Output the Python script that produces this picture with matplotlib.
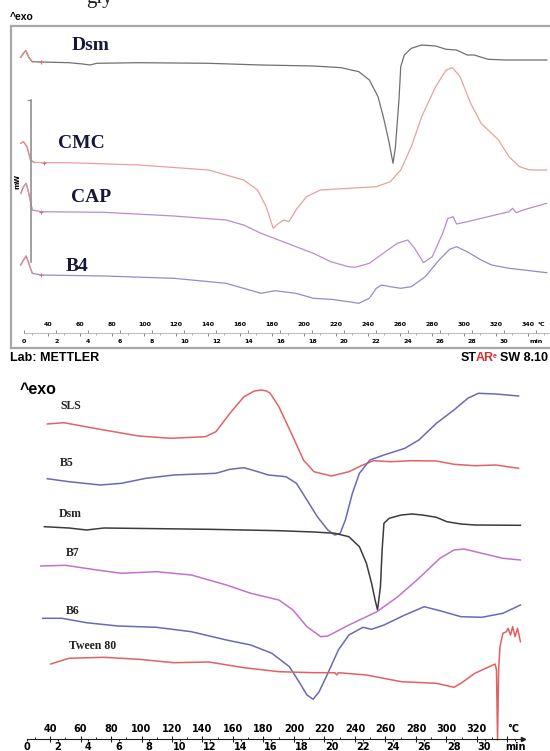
import matplotlib
matplotlib.use("Agg")
import matplotlib.pyplot as plt
import numpy as np

# ---------------- data (temperature in °C, signal in arbitrary units, downward positive) ----------------
# Top thermogram (METTLER)
top_dsm_T = [22.8, 24.5, 26.0, 27.8, 30.0, 35.4, 52.9, 61.6, 66.0, 70.3, 96.6, 140.2, 173.0, 205.7, 223.2,
             234.1, 240.7, 246.1, 249.4, 252.7, 255.5, 257.0, 259.2, 260.3, 262.5, 266.9, 273.4, 282.1,
             288.7, 295.2, 301.8, 306.2, 314.9, 325.8, 351.6]
top_dsm_y = [57.3, 53.3, 50.7, 57.3, 61.7, 62.0, 62.7, 64.0, 65.0, 63.3, 62.7, 63.3, 65.0, 66.0, 67.7,
             71.7, 80.0, 96.7, 116.7, 140.0, 163.3, 146.7, 100.0, 66.7, 55.0, 48.3, 45.0, 46.0,
             49.3, 50.0, 55.0, 55.0, 59.3, 60.0, 60.0]

top_cmc_T = [22.8, 24.5, 26.7, 28.9, 31.0, 37.6, 52.9, 96.6, 140.2, 162.1, 170.8, 176.2, 180.6, 183.9,
             187.2, 190.4, 194.8, 201.4, 210.1, 227.6, 245.0, 253.8, 260.3, 266.9, 273.4, 282.1, 288.7,
             292.6, 297.4, 304.0, 310.5, 317.1, 321.4, 328.0, 334.5, 341.1, 351.6]
top_cmc_y = [143.3, 141.7, 146.7, 160.0, 162.3, 162.7, 162.7, 165.0, 170.0, 180.0, 190.0, 206.7, 228.3,
             223.3, 220.0, 221.7, 210.0, 196.7, 190.0, 188.3, 186.7, 181.7, 170.0, 146.7, 116.7, 86.7,
             70.0, 67.7, 76.7, 103.3, 123.3, 133.3, 140.0, 156.7, 166.7, 170.0, 170.0]

top_cap_T = [22.8, 24.5, 26.2, 27.8, 30.0, 35.4, 74.7, 118.4, 151.1, 162.1, 173.0, 183.9, 205.7, 216.6,
             227.6, 231.9, 240.7, 249.4, 258.1, 264.7, 269.0, 274.5, 280.0, 286.5, 289.8, 293.1, 295.2,
             301.8, 314.9, 328.0, 330.2, 332.4, 336.7, 351.6]
top_cap_y = [193.3, 186.7, 183.3, 193.3, 210.0, 211.7, 212.3, 216.0, 220.0, 225.0, 233.3, 240.0, 253.3,
             261.7, 266.7, 267.3, 263.3, 253.3, 243.3, 240.0, 248.3, 262.7, 256.7, 233.3, 218.3, 216.7,
             224.0, 221.7, 216.7, 211.7, 208.3, 212.7, 210.0, 203.3]

top_b4_T = [22.8, 24.5, 26.2, 27.8, 30.0, 35.4, 74.7, 118.4, 151.1, 173.0, 181.7, 194.8, 205.7, 216.6,
            227.6, 234.1, 240.7, 245.0, 248.3, 253.8, 260.3, 266.9, 275.6, 284.3, 290.9, 295.2, 301.8,
            310.5, 317.1, 328.0, 351.6]
top_b4_y = [265.0, 260.0, 256.0, 263.3, 273.3, 275.0, 276.0, 278.3, 283.3, 293.3, 290.7, 293.3, 298.3,
            299.3, 301.7, 303.3, 298.3, 288.3, 285.0, 286.7, 288.3, 286.7, 276.7, 260.0, 249.3, 246.7,
            251.7, 260.0, 265.0, 268.3, 272.7]

top_names = ["Dsm", "CMC", "CAP", "B4"]
top_label_T = [54.4, 46.3, 53.9, 50.7]
top_label_y = [46, 144, 198, 267]

# Bottom thermogram
sls_T = [38.2, 49.0, 75.3, 98.3, 119.0, 141.9, 148.8, 158.0, 167.2, 174.0, 178.6, 182.0, 184.4, 190.1,
         199.3, 206.2, 213.1, 224.5, 236.0, 245.2, 252.1, 263.5, 277.3, 293.4, 304.9, 318.6, 332.4, 347.3]
sls_y = [424.0, 422.7, 430.0, 436.0, 438.3, 436.7, 431.7, 413.3, 396.7, 391.0, 390.0, 391.0, 393.3, 406.7,
         436.7, 460.0, 471.7, 476.0, 471.7, 465.0, 460.7, 461.7, 460.7, 461.0, 464.3, 465.7, 465.0, 468.3]

b5_T = [38.2, 52.4, 73.0, 86.8, 102.9, 121.2, 148.8, 158.0, 167.2, 176.3, 183.2, 194.7, 201.6, 208.5,
        215.3, 222.2, 226.8, 230.3, 233.7, 238.3, 242.9, 249.8, 259.0, 272.7, 281.9, 293.4, 304.9, 314.0,
        320.9, 332.4, 347.3]
b5_y = [478.7, 481.7, 485.0, 483.3, 478.3, 475.0, 473.3, 469.3, 467.7, 471.7, 475.0, 476.7, 483.3, 500.0,
        516.7, 530.0, 535.0, 533.3, 520.0, 493.3, 473.3, 460.0, 455.0, 448.3, 440.0, 423.3, 410.0, 398.3,
        393.3, 394.0, 396.0]

dsm_T = [36.3, 52.4, 63.9, 75.3, 144.2, 190.1, 213.1, 226.8, 236.0, 242.9, 247.5, 250.9, 253.2, 254.8,
         256.7, 257.8, 259.0, 262.4, 270.4, 277.3, 284.2, 293.4, 300.3, 309.5, 318.6, 348.5]
dsm_y = [526.7, 528.0, 530.0, 528.0, 529.3, 530.7, 532.0, 533.3, 536.7, 546.7, 563.3, 583.3, 600.0, 610.0,
         586.7, 550.0, 523.3, 518.3, 515.0, 514.0, 515.0, 517.3, 521.7, 524.0, 525.0, 525.3]

b7_T = [34.0, 50.1, 70.8, 86.8, 109.8, 132.7, 155.7, 171.7, 190.1, 199.3, 208.5, 217.6, 222.2, 236.0,
        254.4, 268.1, 281.9, 295.7, 304.9, 311.7, 323.2, 337.0, 348.5]
b7_y = [566.0, 565.3, 570.0, 573.3, 571.7, 575.0, 585.0, 593.3, 600.0, 610.0, 626.7, 636.7, 636.0, 625.0,
        611.7, 596.7, 578.3, 558.3, 550.0, 549.0, 553.3, 558.3, 560.0]

b6_T = [35.2, 47.8, 63.9, 84.5, 109.8, 132.7, 155.7, 171.7, 185.5, 197.0, 203.9, 208.5, 212.6, 216.5,
        222.2, 229.1, 236.0, 245.2, 250.9, 259.0, 272.7, 285.4, 295.7, 309.5, 323.2, 337.0, 348.5]
b6_y = [618.3, 618.3, 622.7, 626.0, 627.3, 631.7, 640.0, 645.0, 653.3, 666.7, 683.3, 695.0, 699.3, 691.7,
        673.3, 650.0, 635.0, 627.3, 629.3, 625.0, 615.0, 606.7, 610.7, 616.7, 617.3, 613.3, 605.0]

tw_T = [40.5, 52.4, 75.3, 98.3, 121.2, 144.2, 167.2, 190.1, 213.1, 226.8, 228.0, 229.1, 247.5, 270.4,
        293.4, 304.9, 309.5, 318.6, 331.9, 332.8, 333.5, 334.2, 335.1, 337.0, 339.3, 340.4, 342.0, 343.4,
        345.0, 346.6, 348.5]
tw_y = [664.0, 658.3, 657.3, 659.3, 662.7, 662.0, 667.7, 671.7, 672.7, 672.7, 675.0, 672.7, 675.0, 681.7,
        683.3, 687.3, 683.3, 673.3, 664.0, 670.0, 740.0, 670.0, 646.7, 633.3, 631.7, 628.3, 635.0, 626.7,
        636.7, 628.3, 641.7]

bot_names = ["SLS", "B5", "Dsm", "B7", "B6", "Tween 80"]
bot_label_T = [46.9, 46.7, 46.0, 50.6, 50.1, 52.4]
bot_label_y = [406, 463, 514, 553, 611, 646]

top_temp_ticks = list(range(40, 341, 20))
top_min_ticks = list(range(0, 33, 2))
bot_temp_ticks = list(range(40, 341, 20))
bot_min_ticks = list(range(0, 33, 2))

# ---------------- figure ----------------
W, H = 550, 751
fig = plt.figure(figsize=(W / 100, H / 100), dpi=100)


def box(x0, y0, x1, y1):
    return [x0 / W, 1 - y1 / H, (x1 - x0) / W, (y1 - y0) / H]


def T_to_min(T):
    return (np.asarray(T) - 25.0) / 10.0


def min_to_T(m):
    return np.asarray(m) * 10.0 + 25.0


# fragment of the page text above the figure (cut by the top edge)
fig.text(86 / W, 1 - 3 / H, "gly", family="Liberation Serif", fontsize=15, va="baseline", ha="left",
         color="#202020")

# ---- top panel ----
TOP_XLIM = (16.7, 361.1)
ax1 = fig.add_axes(box(11, 26, 562, 348))
ax1.set_xlim(*TOP_XLIM)
ax1.set_ylim(348, 26)
ax1.set_xticks([])
ax1.set_yticks([])
for s in ax1.spines.values():
    s.set_color("#a8a8a8")
    s.set_linewidth(1.6)

top_colors = ["#707070", "#e6a29c", "#b98ccf", "#8f8ccc"]
for (T, y, c) in zip([top_dsm_T, top_cmc_T, top_cap_T, top_b4_T],
                     [top_dsm_y, top_cmc_y, top_cap_y, top_b4_y], top_colors):
    ax1.plot(T, y, color=c, lw=0.9, marker="+", markevery=[5], ms=3, mec="#e07070", mew=0.8)
    ax1.plot(T[:5], y[:5], color="#dc8c8c", lw=0.9)

for name, tx, ty in zip(top_names, top_label_T, top_label_y):
    ax1.text(tx, ty, name, family="Liberation Serif", weight="bold", fontsize=14,
             color="#17173d", ha="left", va="center")

# scale bar (mW)
bar = fig.add_axes(box(31, 100, 32, 262))
bar.patch.set_visible(False)
for k in ["right", "top", "bottom"]:
    bar.spines[k].set_visible(False)
bar.spines["left"].set_color("#909090")
bar.spines["left"].set_linewidth(1.2)
bar.set_xticks([])
bar.set_ylim(0, 1)
bar.set_yticks([1])
bar.set_yticklabels([])
bar.tick_params(axis="y", length=3, color="#909090")
bar.set_ylabel("mW", fontsize=5, weight="bold", labelpad=1)

# top scale
sax1 = fig.add_axes(box(11, 333, 562, 333.3))
sax1.patch.set_visible(False)
sax1.set_xlim(*TOP_XLIM)
sax1.set_yticks([])
for k in ["left", "right", "bottom"]:
    sax1.spines[k].set_visible(False)
sax1.spines["top"].set_color("#b0b0b0")
sax1.spines["top"].set_linewidth(0.6)
sax1.spines["top"].set_bounds(25, 358)
sax1.xaxis.tick_top()
sax1.set_xticks(top_temp_ticks)
sax1.set_xticks(list(range(30, 360, 10)), minor=True)
sax1.tick_params(axis="x", which="major", direction="in", length=2.5, width=0.6, color="#707070",
                 labelsize=4.5, pad=4)
sax1.tick_params(axis="x", which="minor", direction="in", length=1.2, width=0.5, color="#909090")
for lab in sax1.get_xticklabels():
    lab.set_fontweight("bold")
sax1.annotate("°C", xy=(top_temp_ticks[-1], 1), xycoords=("data", "axes fraction"),
              xytext=(7, 4.3), textcoords="offset points", fontsize=4.5, weight="bold", va="bottom")
sec1 = sax1.secondary_xaxis("bottom", functions=(T_to_min, min_to_T))
sec1.spines["bottom"].set_visible(False)
sec1.set_xticks(top_min_ticks)
sec1.set_xticklabels([str(m) for m in top_min_ticks[:-1]] + ["min"])
sec1.tick_params(axis="x", direction="in", length=2.5, width=0.6, color="#707070", labelsize=4.5, pad=4)
for lab in sec1.get_xticklabels():
    lab.set_fontweight("bold")

fig.text(10 / W, 1 - 17 / H, "^exo", fontsize=7.5, weight="bold", family="Liberation Sans",
         va="center", ha="left")
fig.text(10 / W, 1 - 358 / H, "Lab: METTLER", fontsize=9, weight="bold", family="Liberation Sans",
         va="center", ha="left")
fig.text(461 / W, 1 - 358 / H, "ST", fontsize=9, weight="bold", family="Liberation Sans",
         va="center", ha="left")
fig.text(476 / W, 1 - 358 / H, "AR", fontsize=9, weight="bold", family="Liberation Sans",
         va="center", ha="left", color="#d83030")
fig.text(493 / W, 1 - 356 / H, "e", fontsize=5, weight="bold", family="Liberation Sans",
         va="center", ha="left", color="#d83030")
fig.text(500 / W, 1 - 358 / H, "SW 8.10", fontsize=9, weight="bold", family="Liberation Sans",
         va="center", ha="left")

# ---- bottom panel ----
BOT_XLIM = (7.2, 367.9)
ax2 = fig.add_axes(box(0, 375, 550, 745))
ax2.set_xlim(*BOT_XLIM)
ax2.set_ylim(745, 375)
ax2.axis("off")

bot_series = [(sls_T, sls_y, "#e06464"), (b5_T, b5_y, "#6a6ab4"), (dsm_T, dsm_y, "#3c3c3c"),
              (b7_T, b7_y, "#c272cc"), (b6_T, b6_y, "#6a6ab4"), (tw_T, tw_y, "#e26060")]
for T, y, c in bot_series:
    ax2.plot(T, y, color=c, lw=1.1, clip_on=False)

for name, tx, ty in zip(bot_names, bot_label_T, bot_label_y):
    ax2.text(tx, ty, name, family="Liberation Serif", weight="bold", fontsize=8.5,
             color="#222222", ha="left", va="center")

fig.text(20 / W, 1 - 389 / H, "^exo", fontsize=11.5, weight="bold", family="Liberation Sans",
         va="center", ha="left")

# bottom scale
AXIS_START, AXIS_END = 25, 350
sax2 = fig.add_axes(box(0, 739, 550, 739.3))
sax2.patch.set_visible(False)
sax2.set_xlim(*BOT_XLIM)
sax2.set_ylim(0, 1)
sax2.set_yticks([])
for k in ["left", "right", "bottom"]:
    sax2.spines[k].set_visible(False)
sax2.spines["top"].set_color("#202020")
sax2.spines["top"].set_linewidth(0.8)
sax2.spines["top"].set_bounds(AXIS_START, AXIS_END)
sax2.plot([AXIS_END], [1], marker=">", ms=3, color="#202020", clip_on=False,
          transform=sax2.get_xaxis_transform())
sax2.xaxis.tick_top()
sax2.set_xticks(bot_temp_ticks)
sax2.set_xticklabels([str(t) for t in bot_temp_ticks[:-1]] + ["°C"])
sax2.set_xticks(list(range(30, 350, 10)), minor=True)
sax2.tick_params(axis="x", which="major", direction="inout", length=4, width=0.8, color="#202020",
                 labelsize=7, pad=1.5)
sax2.tick_params(axis="x", which="minor", direction="out", length=1.5, width=0.7, color="#202020")
for lab in sax2.get_xticklabels():
    lab.set_fontweight("bold")
    lab.set_family("DejaVu Sans")
sax2.get_xticklabels()[-1].set_horizontalalignment("left")
sec2 = sax2.secondary_xaxis("bottom", functions=(T_to_min, min_to_T))
sec2.spines["bottom"].set_visible(False)
sec2.set_xticks(bot_min_ticks)
sec2.set_xticklabels([str(m) for m in bot_min_ticks[:-1]] + ["min"])
sec2.tick_params(axis="x", direction="out", length=1.5, width=0.8, color="#202020", labelsize=7, pad=0.5)
for lab in sec2.get_xticklabels():
    lab.set_fontweight("bold")

fig.savefig("out.png", dpi=100)
